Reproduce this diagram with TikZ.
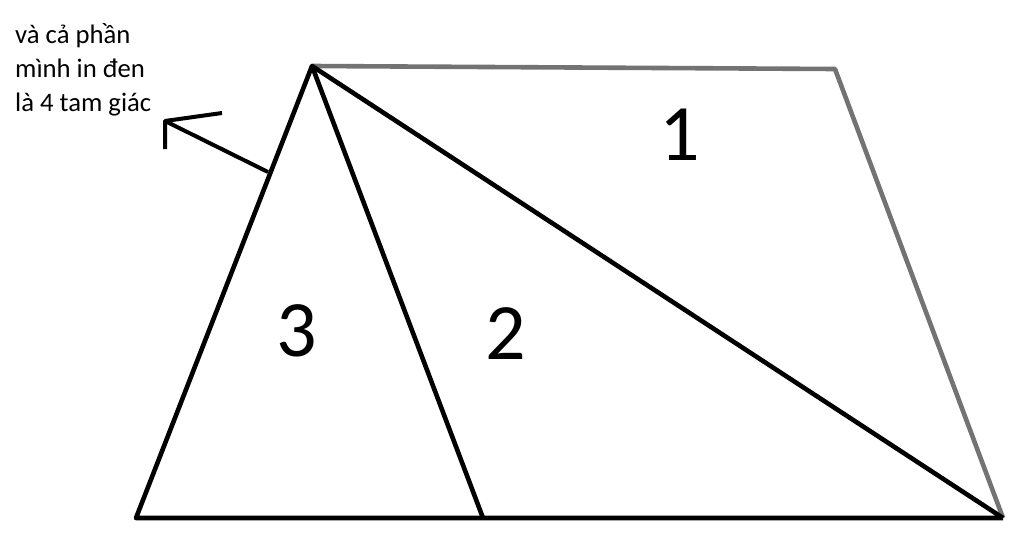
\documentclass[tikz,border=0pt]{standalone}
\usepackage{fontspec}
\setmainfont{Carlito}
\begin{document}
\begin{tikzpicture}[x=1pt,y=-1pt,line join=round,
    edge/.style={line width=4.6pt},
    pale/.style={line width=4.6pt,draw=black!55},
    num/.style={font=\fontsize{80}{80}\selectfont}]
    \useasboundingbox (0,0) rectangle (1024,554);

    \coordinate (A) at (312,66);
    \coordinate (B) at (835,69);
    \coordinate (C) at (1003,518);
    \coordinate (D) at (136,518);
    \coordinate (M) at (483,518);

    \draw[pale] (A) -- (B) -- (C);
    \draw[edge] (C) -- (D) -- (A) -- (C);
    \draw[edge] (A) -- (M);

    \node[num] (n1) at (680,135) {1};
    \node[num] (n2) at (506,334) {2};
    \node[num] (n3) at (297,331) {3};

    \node[anchor=north west,align=left,inner sep=0pt,
      font=\fontsize{26.7}{34}\selectfont] (note) at (15,23)
      {và cả phần\\mình in đen\\là 4 tam giác};

    % arrow pointing at the text
    \coordinate (foot) at (268,172);
    \coordinate (tip) at (165,121);
    \coordinate (armA) at (222,113);
    \coordinate (armB) at (165,149);
    \draw[line width=4pt] (foot) -- (tip);
    \draw[line width=4pt] (armA) -- (tip) -- (armB);
\end{tikzpicture}
\end{document}
